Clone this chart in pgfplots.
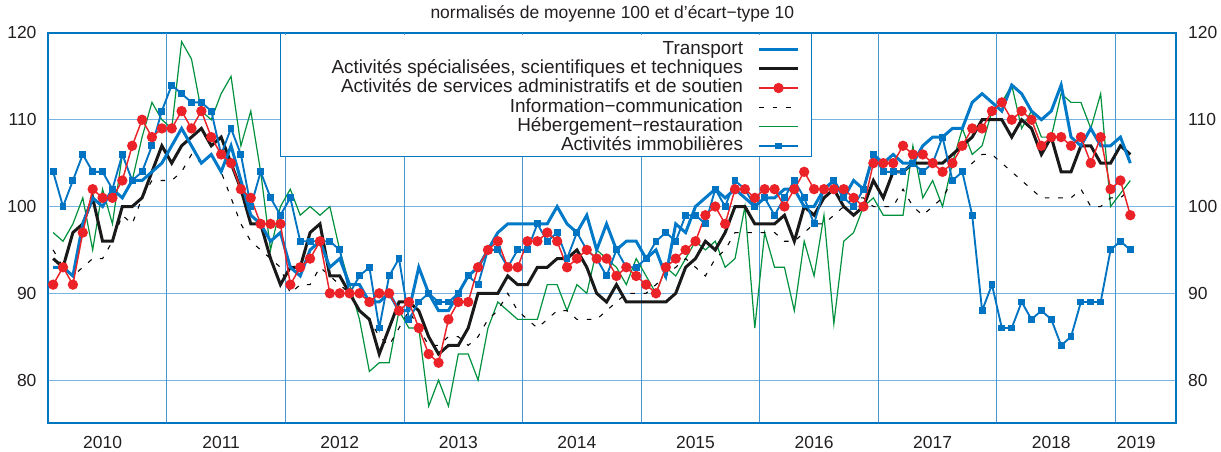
\documentclass[border=0pt]{standalone}
\usepackage{pgfplots}
\pgfplotsset{compat=1.18}
\usepackage{pgfplotstable}
\usepackage{fontspec}
\setmainfont{Liberation Sans}
\definecolor{axblue}{RGB}{0,118,192}
\definecolor{gridblue}{RGB}{120,180,225}
\definecolor{vgridblue}{RGB}{70,150,210}
\definecolor{trblue}{RGB}{0,122,200}
\definecolor{imblue}{RGB}{0,115,195}
\definecolor{redc}{RGB}{235,35,40}
\definecolor{greenc}{RGB}{0,145,60}
\definecolor{txt}{RGB}{35,31,32}

% columns: T = Transport, S = specialisees, A = admin/soutien, I = info-comm, H = hebergement, R = immobilier
\pgfplotstableread{
T S A I H R
93 94 91 95 97 104
93 93 93 93 96 100
92 97 91 92 98 103
98 98 97 93 101 106
101 101 102 94 95 104
100 96 101 94 102 104
102 96 101 96 98 102
101 100 103 99 106 106
103 100 107 98 103 103
103 101 110 101 108 104
104 104 108 103 112 107
105 107 109 103 110 111
107 105 109 103 109 114
109 107 111 104 119 113
107 108 109 106 117 112
105 109 111 105 111 112
106 107 108 106 110 111
104 108 106 104 113 106
107 105 105 101 115 109
103 102 102 98 107 106
99 98 101 96 111 100
98 98 98 95 104 104
96 94 98 94 95 101
97 91 98 93 100 99
93 93 91 90 102 101
92 93 93 91 99 96
95 97 94 91 100 96
96 98 96 93 99 96
93 92 90 92 100 96
94 92 90 91 95 95
91 90 90 90 91 90
91 88 90 88 87 92
89 87 89 87 81 93
89 83 90 85 82 86
90 86 90 84 82 92
88 89 88 86 88 94
88 89 89 88 86 87
93 88 86 86 86 89
90 85 83 84 77 90
88 83 82 84 80 89
88 84 87 85 77 89
90 84 89 85 83 90
92 86 89 84 83 92
93 90 93 85 80 91
95 90 95 87 86 95
97 90 96 88 89 95
98 92 93 90 88 93
98 91 93 88 87 95
98 91 96 87 87 95
98 93 96 86 87 98
98 93 97 87 91 96
100 94 96 88 91 97
98 94 93 88 88 94
97 95 94 87 91 97
99 93 95 87 90 95
95 90 94 87 95 94
98 89 94 88 94 92
95 91 92 89 93 95
96 89 93 90 91 93
96 89 92 90 94 93
94 89 91 90 92 94
95 89 90 91 90 96
92 89 93 92 93 97
98 90 94 93 92 96
97 93 95 94 94 99
100 94 96 93 96 99
101 96 99 92 95 98
102 95 100 94 96 102
101 97 98 95 93 100
102 100 102 97 94 103
101 100 102 97 100 102
100 98 101 97 86 100
101 98 102 97 97 101
101 98 102 97 93 99
102 99 100 96 93 101
102 96 102 96 88 103
100 100 104 97 96 101
100 99 102 98 92 98
102 101 102 98 99 102
103 102 102 99 86.5 103
101 100 102 100 96 101
103 99 101 101 97 100
102 100 100 101 100 102
106 103 105 100 101 106
105 101 105 100 99 104
106 104 105 100 99 104
105 104 107 102 99 104
105 105 106 100 107 105
107 105 106 99 101 104
108 105 105 100 103 105
108 105 104 101 100 108
109 106 105 103 105 103
109 107 107 104 109 104
112 108 109 105 106 99
113 110 109 106 107 88
112 110 111 106 111 91
111 110 112 105 112 86
114 108 110 104 114 86
113 110 111 103 109 89
111 109 110 102 111 87
110 106 107 101 108 88
111 108 108 101 108 87
114 104 108 101 113 84
108 104 107 101 112 85
107 107 108 102 112 89
109 107 105 100 109 89
107 105 108 100 113 89
107 105 102 101 100 95
108 107 103 101 101.5 96
105 106 99 102 103 95
}\data

\newcommand{\tickfont}{\fontsize{13.1pt}{15pt}\selectfont}
\newcommand{\legfont}{\fontsize{14.2pt}{14.5pt}\selectfont}

\begin{document}
\begin{tikzpicture}
\useasboundingbox (0pt,0pt) rectangle (915.75pt,339pt);
\begin{axis}[
  at={(36.15pt,21.375pt)}, anchor=south west,
  scale only axis, width=846.2pt, height=292.9pt,
  xmin=-0.5, xmax=113.67, ymin=75, ymax=120,
  axis line style={axblue, line width=1.5pt},
  major tick length=0pt,
  ytick={80,90,100,110,120},
  ymajorgrids=true, xmajorgrids=false,
  grid style={gridblue, line width=0.9pt},
  xtick={5,17,29,41,53,65,77,89,101,109.6},
  xticklabels={2010,2011,2012,2013,2014,2015,2016,2017,2018,2019},
  extra x ticks={11.5,23.5,35.5,47.5,59.5,71.5,83.5,95.5,107.5},
  extra x tick labels={},
  extra x tick style={grid=major, major grid style={vgridblue, line width=0.7pt}},
  /pgf/number format/assume math mode=true,
  tick label style={font=\tickfont, text=txt, inner sep=0pt},
  xticklabel style={anchor=north, yshift=-9.5pt},
  yticklabel style={anchor=east, xshift=-8.6pt},
  ytick pos=left,
  title={normalisés de moyenne 100 et d’écart−type 10},
  title style={font=\tickfont, text=txt, at={(0.5,1)}, anchor=base, yshift=4.9pt, inner sep=0pt},
  legend style={at={(0.666,1)}, anchor=north east, yshift=-5.5pt, draw=none, fill=none,
    inner sep=0pt, font=\legfont, text=txt,
    nodes={inner sep=0pt, text height=10.2pt, text depth=3pt},
    row sep=1.3pt, column sep=11pt},
  legend cell align=right,
  legend plot pos=right,
  legend image code/.code={\draw[mark repeat=2,mark phase=2,#1] plot coordinates {(0pt,0pt) (14.5pt,0pt) (29pt,0pt)};},
]
\addplot[greenc, line width=0.9pt, forget plot] table[x expr=\coordindex, y=H] {\data};
\addplot[black, line width=0.8pt, dash pattern=on 3.5pt off 6.5pt, forget plot] table[x expr=\coordindex, y=I] {\data};
\addplot[black!90, line width=2.25pt, forget plot] table[x expr=\coordindex, y=S] {\data};
\addplot[trblue, line width=2.25pt, forget plot] table[x expr=\coordindex, y=T] {\data};
\addplot[imblue, line width=1.4pt, mark=square*, mark size=1.9pt, forget plot] table[x expr=\coordindex, y=R] {\data};
\addplot[redc, line width=1.1pt, mark=*, mark size=3.3pt, forget plot] table[x expr=\coordindex, y=A] {\data};

\fill[white] (rel axis cs:0.206,0.6825) rectangle (rel axis cs:0.6767,0.996);
\draw[axblue, line width=0.8pt] (rel axis cs:0.206,0.6825) rectangle (rel axis cs:0.6767,1);
\draw[axblue, line width=1.5pt] (rel axis cs:0,0) -- (rel axis cs:1,0);

\addlegendimage{trblue, line width=2.25pt}
\addlegendentry{Transport}
\addlegendimage{black!90, line width=2.25pt}
\addlegendentry{Activités spécialisées, scientifiques et techniques}
\addlegendimage{redc, line width=1.1pt, mark=*, mark size=3.3pt}
\addlegendentry{Activités de services administratifs et de soutien}
\addlegendimage{black, line width=0.8pt, dash pattern=on 3.5pt off 6.5pt}
\addlegendentry{Information−communication}
\addlegendimage{greenc, line width=0.9pt}
\addlegendentry{Hébergement−restauration}
\addlegendimage{imblue, line width=1.4pt, mark=square*, mark size=1.9pt}
\addlegendentry{Activités immobilières}
\end{axis}
\begin{axis}[
  at={(36.15pt,21.375pt)}, anchor=south west,
  scale only axis, width=846.2pt, height=292.9pt,
  xmin=-0.5, xmax=113.67, ymin=75, ymax=120,
  axis x line=none, axis y line*=right,
  y axis line style={draw=none},
  major tick length=0pt,
  ytick={80,90,100,110,120},
  /pgf/number format/assume math mode=true,
  tick label style={font=\tickfont, text=txt, inner sep=0pt},
  yticklabel style={anchor=west, xshift=8.6pt},
]
\addplot[draw=none] coordinates {(0,100)};
\end{axis}
\end{tikzpicture}
\end{document}
